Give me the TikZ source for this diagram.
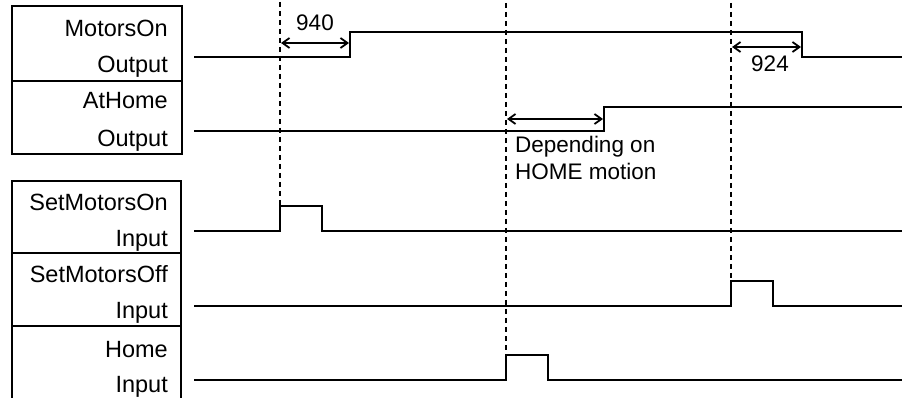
\documentclass[tikz,border=0pt]{standalone}
\usepackage{fontspec}
\setmainfont{Liberation Sans}
\usetikzlibrary{arrows.meta}
\begin{document}
\begin{tikzpicture}[x=1pt,y=-1pt,
  frame/.style={line width=1.8pt},
  sig/.style={line width=2pt},
  guide/.style={line width=1.1pt,dash pattern=on 5pt off 4pt},
  dim/.style={line width=1.8pt,{Straight Barb[length=7pt,width=10pt]}-{Straight Barb[length=7pt,width=10pt]}},
  lbl/.style={anchor=base east,inner sep=0pt,font=\fontsize{23.5}{28}\selectfont},
  note/.style={inner sep=0pt,font=\fontsize{22.5}{27}\selectfont}]
\useasboundingbox (0,0) rectangle (908,398);
% label boxes
\draw[frame] (12,6) rectangle (182,154);
\draw[frame] (12,81) -- (182,81);
\draw[frame] (12,398) -- (12,181) -- (181,181) -- (181,398);
\draw[frame] (12,253) -- (181,253);
\draw[frame] (12,326) -- (181,326);
\node[lbl] (l1) at (168,37) {MotorsOn};
\node[lbl] (l2) at (168,73) {Output};
\node[lbl] (l3) at (168,109) {AtHome};
\node[lbl] (l4) at (168,147) {Output};
\node[lbl] (l5) at (168,211) {SetMotorsOn};
\node[lbl] (l6) at (168,247) {Input};
\node[lbl] (l7) at (168,283) {SetMotorsOff};
\node[lbl] (l8) at (168,319) {Input};
\node[lbl] (l9) at (168,357) {Home};
\node[lbl] (l10) at (168,392) {Input};
% guide lines
\draw[guide] (280,2) -- (280,205);
\draw[guide] (506,3) -- (506,355);
\draw[guide] (731,3) -- (731,280);
% waveforms
\draw[sig] (194,57) -- (350,57) -- (350,32) -- (802,32) -- (802,57) -- (902,57);
\draw[sig] (194,131) -- (604,131) -- (604,107) -- (902,107);
\draw[sig] (194,231) -- (280,231) -- (280,206) -- (322,206) -- (322,231) -- (902,231);
\draw[sig] (194,306) -- (731,306) -- (731,281) -- (773,281) -- (773,306) -- (902,306);
\draw[sig] (194,380) -- (506,380) -- (506,355) -- (548,355) -- (548,380) -- (902,380);
% dimensions
\coordinate (a1) at (281,43); \coordinate (b1) at (349,43);
\draw[dim] (a1) -- (b1);
\node[note,anchor=base] (t1) at (315,31) {940};
\coordinate (a2) at (732,47); \coordinate (b2) at (801,47);
\draw[dim] (a2) -- (b2);
\node[note,anchor=base] (t2) at (770,72) {924};
\coordinate (a3) at (507,119); \coordinate (b3) at (603,119);
\draw[dim] (a3) -- (b3);
\node[note,anchor=base west] (t3) at (515,153) {Depending on};
\node[note,anchor=base west] (t4) at (515,180) {HOME motion};
\end{tikzpicture}
\end{document}
